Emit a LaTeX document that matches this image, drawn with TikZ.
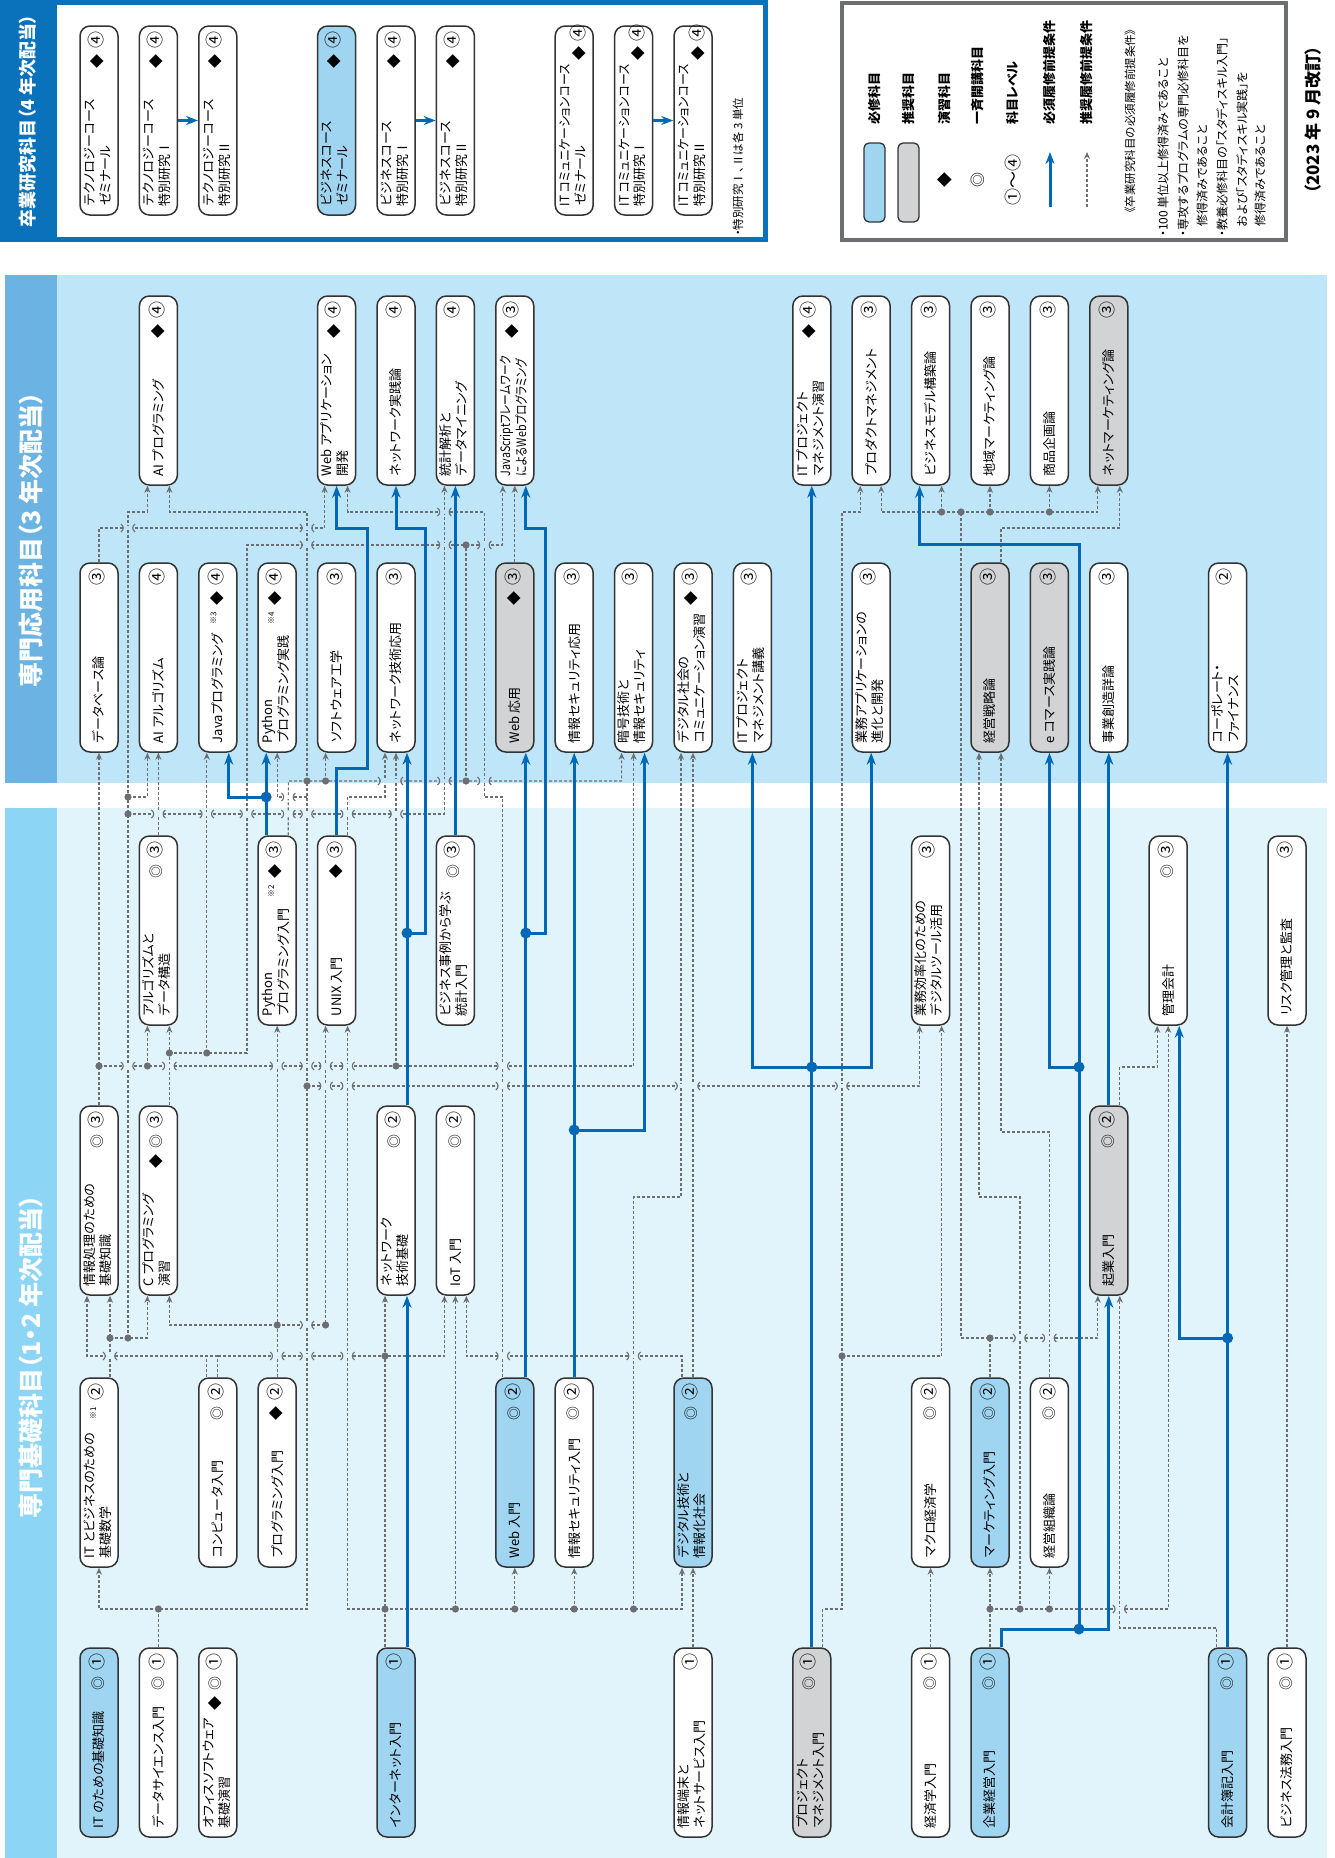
\documentclass[tikz,border=0pt]{standalone}
\usepackage{fontspec}
\setmainfont{Noto Sans CJK JP}[RawFeature={+palt}]
\usepackage{graphicx}
\usetikzlibrary{arrows.meta}
\definecolor{reqblue}{HTML}{0068B7}
\definecolor{recgray}{HTML}{6D6E71}
\definecolor{boxline}{HTML}{333333}
\definecolor{reqfill}{HTML}{A0D5F2}
\definecolor{recfill}{HTML}{D1D3D4}
\definecolor{bgapp}{HTML}{BEE5F8}
\definecolor{barapp}{HTML}{6BB3E3}
\definecolor{bgbase}{HTML}{E1F3FB}
\definecolor{barbase}{HTML}{8DD5F5}
\definecolor{gradblue}{HTML}{0A72BA}
\definecolor{legline}{HTML}{6D6E71}
\newcommand{\mk}[1]{\makebox[20pt]{\fontsize{14}{14}\selectfont#1}}
\newcommand{\cbox}[3]{\makebox[189pt][l]{\hspace{9pt}\begin{tabular}{@{}l@{}}#1\end{tabular}\hfill#2\makebox[22pt]{\fontsize{17}{17}\selectfont#3}\hspace{3pt}}}

\begin{document}
\begin{tikzpicture}[x=1pt, y=-1pt,
    course/.style={rotate=90, draw=boxline, line width=1.5pt, rounded corners=10pt, fill=white, minimum width=189pt, minimum height=38pt, inner sep=0pt, font=\fontsize{13}{16}\selectfont},
    reqcourse/.style={course, fill=reqfill},
    reccourse/.style={course, fill=recfill},
    rec/.style={draw=recgray, line width=1.2pt, dash pattern=on 3pt off 2pt},
    recarr/.style={rec, -{Stealth[length=7pt, width=6pt]}},
    req/.style={draw=reqblue, line width=3pt},
    reqarr/.style={req, -{Stealth[length=12pt, width=9pt]}},
    title/.style={rotate=90, text=white, font=\bfseries\fontsize{25}{25}\selectfont},
    legtext/.style={rotate=90, anchor=west, inner sep=0pt, font=\bfseries\fontsize{13}{13}\selectfont},
    notetext/.style={rotate=90, anchor=west, inner sep=0pt, font=\fontsize{12}{12}\selectfont},
    pics/hop/.style={code={
      \fill[#1] (-4.5,-1.6) rectangle (4.5,1.6);
      \draw[recgray, line width=1.1pt] (-7,-4) .. controls (-4,-2) and (-4,2) .. (-7,4);
      \draw[recgray, line width=1.1pt] (7,-4) .. controls (4,-2) and (4,2) .. (7,4);
    }},
    pics/widehop/.style={code={
      \fill[#1] (-10,-1.6) rectangle (10,1.6);
      \draw[recgray, line width=1.1pt] (-12.5,-4) .. controls (-9.5,-2) and (-9.5,2) .. (-12.5,4);
      \draw[recgray, line width=1.1pt] (12.5,-4) .. controls (9.5,-2) and (9.5,2) .. (12.5,4);
    }}
  ]
  \useasboundingbox (0,0) rectangle (1334,1858);

  % panels
  \fill[bgapp] (5,275) rectangle (1327,783);
  \fill[barapp] (5,275) rectangle (57,783);
  \fill[bgbase] (5,808) rectangle (1327,1858);
  \fill[barbase] (5,808) rectangle (57,1858);
  \draw[gradblue, line width=5pt, fill=white] (2.5,2.5) rectangle (765.5,239.5);
  \fill[gradblue] (0,0) rectangle (57,242);
  \draw[legline, line width=4pt] (842,3) rectangle (1286,240);

  \node[title, font=\bfseries\fontsize{18}{18}\selectfont] (gradtitle) at (28,121) {卒業研究科目（4 年次配当）};
  \node[title] (apptitle) at (31,540) {専門応用科目（3 年次配当）};
  \node[title] (basetitle) at (31,1357) {専門基礎科目（1・2 年次配当）};

  % graduation research
  \node[course] (tzemi) at (99,120.5) {\cbox{テクノロジーコース\\ゼミナール}{\mk{◆}}{④}};
  \node[course] (tsp1) at (158.4,120.5) {\cbox{テクノロジーコース\\特別研究Ⅰ}{\mk{◆}}{④}};
  \node[course] (tsp2) at (217.8,120.5) {\cbox{テクノロジーコース\\特別研究Ⅱ}{\mk{◆}}{④}};
  \node[reqcourse] (bzemi) at (336.6,120.5) {\cbox{ビジネスコース\\ゼミナール}{\mk{◆}}{④}};
  \node[course] (bsp1) at (396,120.5) {\cbox{ビジネスコース\\特別研究Ⅰ}{\mk{◆}}{④}};
  \node[course] (bsp2) at (455.4,120.5) {\cbox{ビジネスコース\\特別研究Ⅱ}{\mk{◆}}{④}};
  \node[course] (czemi) at (574.2,120.5) {\cbox{\scalebox{0.92}[1]{IT コミュニケーションコース}\\ゼミナール}{\mk{\raisebox{-7pt}{◆}}}{\raisebox{-7pt}{④}}};
  \node[course] (csp1) at (633.6,120.5) {\cbox{\scalebox{0.92}[1]{IT コミュニケーションコース}\\特別研究Ⅰ}{\mk{\raisebox{-7pt}{◆}}}{\raisebox{-7pt}{④}}};
  \node[course] (csp2) at (693,120.5) {\cbox{\scalebox{0.92}[1]{IT コミュニケーションコース}\\特別研究Ⅱ}{\mk{\raisebox{-7pt}{◆}}}{\raisebox{-7pt}{④}}};
  \draw[reqarr] (tsp1.south) -- (tsp2.north);
  \draw[reqarr] (bsp1.south) -- (bsp2.north);
  \draw[reqarr] (csp1.south) -- (csp2.north);
  \node[notetext, font=\fontsize{11.5}{11.5}\selectfont] (gradnote) at (738,236) {・特別研究Ⅰ、Ⅱは各 3 単位};

  % legend
  \draw[fill=reqfill, draw=boxline, line width=1.3pt, rounded corners=5pt] (864,143) rectangle (885,222);
  \draw[fill=recfill, draw=boxline, line width=1.3pt, rounded corners=5pt] (898,143) rectangle (919,222);
  \node[rotate=90, font=\fontsize{15}{15}\selectfont] (legdia) at (945,180) {◆};
  \node[rotate=90, font=\fontsize{15}{15}\selectfont] (legdbl) at (978,180) {◎};
  \node[rotate=90, font=\fontsize{17}{17}\selectfont] (leglvl) at (1013,180) {①〜④};
  \draw[reqarr] (1050,207) -- (1050,152);
  \draw[recarr] (1087,207) -- (1087,152);
  \node[legtext] (legreq) at (875,125) {必修科目};
  \node[legtext] (legrec) at (909,125) {推奨科目};
  \node[legtext] (legex) at (945,125) {演習科目};
  \node[legtext] (legjoint) at (978,125) {一斉開講科目};
  \node[legtext] (leglevel) at (1013,125) {科目レベル};
  \node[legtext] (legreqpre) at (1050,125) {必須履修前提条件};
  \node[legtext] (legrecpre) at (1087,125) {推奨履修前提条件};
  \node[notetext, font=\fontsize{11.5}{11.5}\selectfont] (legcond) at (1130,213) {《卒業研究科目の必須履修前提条件》};
  \node[notetext] (cond1) at (1163,237) {・100 単位以上修得済みであること};
  \node[notetext] (cond2) at (1183,237) {・専攻するプログラムの専門必修科目を};
  \node[notetext] (cond2b) at (1202,227) {修得済みであること};
  \node[notetext] (cond3) at (1222,237) {・教養必修科目の「スタディスキル入門」};
  \node[notetext] (cond3b) at (1242,227) {および「スタディスキル実践」を};
  \node[notetext] (cond3c) at (1260,227) {修得済みであること};
  \node[rotate=90, font=\bfseries\fontsize{17}{17}\selectfont] (revised) at (1313,120) {（2023 年 9 月改訂）};

  % level 3, upper row
  \node[course] (aiprog) at (158.4,390.5) {\cbox{AI プログラミング}{\mk{◆}}{④}};
  \node[course] (webapp) at (336.6,390.5) {\cbox{Web アプリケーション\\開発}{\mk{◆}}{④}};
  \node[course] (netprac) at (396,390.5) {\cbox{ネットワーク実践論}{}{④}};
  \node[course] (stat) at (455.4,390.5) {\cbox{統計解析と\\データマイニング}{}{④}};
  \node[course] (jsweb) at (514.8,390.5) {\cbox{\scalebox{0.82}[1]{JavaScriptフレームワーク}\\\scalebox{0.82}[1]{によるWebプログラミング}}{\mk{◆}}{③}};
  \node[course] (itpmex) at (811.8,390.5) {\cbox{IT プロジェクト\\マネジメント演習}{\mk{◆}}{④}};
  \node[course] (prodmgmt) at (871.2,390.5) {\cbox{プロダクトマネジメント}{}{③}};
  \node[course] (bizmodel) at (930.6,390.5) {\cbox{ビジネスモデル構築論}{}{③}};
  \node[course] (regmkt) at (990,390.5) {\cbox{地域マーケティング論}{}{③}};
  \node[course] (prodplan) at (1049.4,390.5) {\cbox{商品企画論}{}{③}};
  \node[reccourse] (netmkt) at (1108.8,390.5) {\cbox{ネットマーケティング論}{}{③}};

  % level 3, lower row
  \node[course] (dbase) at (99,657.5) {\cbox{データベース論}{}{③}};
  \node[course] (aialgo) at (158.4,657.5) {\cbox{AI アルゴリズム}{}{④}};
  \node[course] (java) at (217.8,657.5) {\cbox{Javaプログラミング}{\mk{\raisebox{6pt}{\fontsize{8}{8}\selectfont ※3}}\mk{◆}}{④}};
  \node[course] (pyprac) at (277.2,657.5) {\cbox{Python\\プログラミング実践}{\mk{\raisebox{6pt}{\fontsize{8}{8}\selectfont ※4}}\mk{◆}}{④}};
  \node[course] (softeng) at (336.6,657.5) {\cbox{ソフトウェア工学}{}{③}};
  \node[course] (netapp) at (396,657.5) {\cbox{ネットワーク技術応用}{}{③}};
  \node[reccourse] (webadv) at (514.8,657.5) {\cbox{Web 応用}{\mk{◆}}{③}};
  \node[course] (secadv) at (574.2,657.5) {\cbox{情報セキュリティ応用}{}{③}};
  \node[course] (crypto) at (633.6,657.5) {\cbox{暗号技術と\\情報セキュリティ}{}{③}};
  \node[course] (digcomm) at (693,657.5) {\cbox{デジタル社会の\\コミュニケーション演習}{\mk{◆}}{③}};
  \node[course] (itpmlec) at (752.4,657.5) {\cbox{IT プロジェクト\\マネジメント講義}{}{③}};
  \node[course] (bizapp) at (871.2,657.5) {\cbox{業務アプリケーションの\\進化と開発}{}{③}};
  \node[reccourse] (strategy) at (990,657.5) {\cbox{経営戦略論}{}{③}};
  \node[reccourse] (ecom) at (1049.4,657.5) {\cbox{e コマース実践論}{}{③}};
  \node[course] (venture) at (1108.8,657.5) {\cbox{事業創造詳論}{}{③}};
  \node[course] (corpfin) at (1227.6,657.5) {\cbox{コーポレート・\\ファイナンス}{}{②}};

  % level 2, upper row
  \node[course] (algds) at (158.4,930.5) {\cbox{アルゴリズムと\\データ構造}{\mk{◎}}{③}};
  \node[course] (pyintro) at (277.2,930.5) {\cbox{Python\\プログラミング入門}{\mk{\raisebox{6pt}{\fontsize{8}{8}\selectfont ※2}}\mk{◆}}{③}};
  \node[course] (unix) at (336.6,930.5) {\cbox{UNIX 入門}{\mk{◆}}{③}};
  \node[course] (bizstat) at (455.4,930.5) {\cbox{ビジネス事例から学ぶ\\統計入門}{\mk{◎}}{③}};
  \node[course] (digtool) at (930.6,930.5) {\cbox{業務効率化のための\\デジタルツール活用}{}{③}};
  \node[course] (mgmtacc) at (1168.2,930.5) {\cbox{管理会計}{\mk{◎}}{③}};
  \node[course] (risk) at (1287,930.5) {\cbox{リスク管理と監査}{}{③}};

  % level 2, lower row
  \node[course] (infobasic) at (99,1200.5) {\cbox{情報処理のための\\基礎知識}{\mk{◎}}{③}};
  \node[course] (cprog) at (158.4,1200.5) {\cbox{C プログラミング\\演習}{\mk{◆}\mk{◎}}{③}};
  \node[course] (netbasic) at (396,1200.5) {\cbox{ネットワーク\\技術基礎}{\mk{◎}}{②}};
  \node[course] (iot) at (455.4,1200.5) {\cbox{IoT 入門}{\mk{◎}}{②}};
  \node[reccourse] (startup) at (1108.8,1200.5) {\cbox{起業入門}{\mk{◎}}{②}};

  % level 1, upper row
  \node[course] (itmath) at (99,1472.5) {\cbox{IT とビジネスのための\\基礎数学}{\mk{\raisebox{6pt}{\fontsize{8}{8}\selectfont ※1}}}{②}};
  \node[course] (compintro) at (217.8,1472.5) {\cbox{コンピュータ入門}{\mk{◎}}{②}};
  \node[course] (progintro) at (277.2,1472.5) {\cbox{プログラミング入門}{\mk{◆}}{②}};
  \node[reqcourse] (webintro) at (514.8,1472.5) {\cbox{Web 入門}{\mk{◎}}{②}};
  \node[course] (secintro) at (574.2,1472.5) {\cbox{情報セキュリティ入門}{\mk{◎}}{②}};
  \node[reqcourse] (digsoc) at (693,1472.5) {\cbox{デジタル技術と\\情報化社会}{\mk{◎}}{②}};
  \node[course] (macro) at (930.6,1472.5) {\cbox{マクロ経済学}{\mk{◎}}{②}};
  \node[reqcourse] (mktintro) at (990,1472.5) {\cbox{マーケティング入門}{\mk{◎}}{②}};
  \node[course] (org) at (1049.4,1472.5) {\cbox{経営組織論}{\mk{◎}}{②}};

  % level 1, lower row
  \node[reqcourse] (itbasic) at (99,1742.5) {\cbox{IT のための基礎知識}{\mk{◎}}{①}};
  \node[course] (dsintro) at (158.4,1742.5) {\cbox{データサイエンス入門}{\mk{◎}}{①}};
  \node[course] (office) at (217.8,1742.5) {\cbox{オフィスソフトウェア\\基礎演習}{\mk{◆}\mk{◎}}{①}};
  \node[reqcourse] (internet) at (396,1742.5) {\cbox{インターネット入門}{}{①}};
  \node[course] (device) at (693,1742.5) {\cbox{情報端末と\\ネットサービス入門}{}{①}};
  \node[reccourse] (pmintro) at (811.8,1742.5) {\cbox{プロジェクト\\マネジメント入門}{\mk{◎}}{①}};
  \node[course] (econ) at (930.6,1742.5) {\cbox{経済学入門}{\mk{◎}}{①}};
  \node[reqcourse] (bizintro) at (990,1742.5) {\cbox{企業経営入門}{\mk{◎}}{①}};
  \node[reqcourse] (bookkeep) at (1227.6,1742.5) {\cbox{会計簿記入門}{\mk{◎}}{①}};
  \node[course] (law) at (1287,1742.5) {\cbox{ビジネス法務入門}{\mk{◎}}{①}};

  % recommended prerequisites
  \draw[recarr] (dsintro.east) -- (158.4,1609) -- (307,1609) -- (307,512) -| ([xshift=11pt]aiprog.west);
  \draw[recarr] (158.4,1609) -| (itmath.west);
  \draw[recarr] (307,1086) -| ([xshift=-11pt]digtool.west);
  \draw[recarr] ([xshift=11pt]pyintro.east) -- (288.4,781) -| ([xshift=-12pt]crypto.west);
  \draw[recarr] (325.6,781) -- ([xshift=-11pt]softeng.west);
  \draw[rec] (466,781) -- (466,545);
  \draw[recarr] ([xshift=11pt]cprog.east) -- ([xshift=11pt]algds.west);
  \draw[recarr] (169.4,1053) -- (247,1053) -- (247,545) -| ([xshift=-12pt]jsweb.west);
  \draw[recarr] (206.8,1053) -- ([xshift=-11pt]java.west);
  \draw[recarr] ([xshift=-12pt]webintro.east) -- (502.8,797) -- (484.4,797) -- (484.4,512) -| ([xshift=11pt]webapp.west);
  \draw[recarr] (307,797) -| (pyprac.west);
  \draw[recarr] ([xshift=11pt]itmath.east) -- ([xshift=11pt]infobasic.west);
  \draw[recarr] (110,1338) -| ([xshift=-11pt]cprog.west);
  \draw[recarr] (128,1338) -- (128,512) -| ([xshift=-11pt]aiprog.west);
  \draw[recarr] (128,797) -| ([xshift=-11pt]aialgo.west);
  \draw[recarr] (128,814) -| ([xshift=-11pt]stat.west);
  \draw[recarr] (infobasic.east) -- (dbase.west);
  \draw[recarr] (99,1066) -| (crypto.west);
  \draw[recarr] (147.4,1066) -- ([xshift=-11pt]algds.west);
  \draw[recarr] (396,1066) -- (netapp.west);
  \draw[recarr] (dbase.east) -- (99,528) -| ([xshift=-12pt]webapp.west);
  \draw[recarr] (algds.east) -- (aialgo.west);
  \draw[recarr] (progintro.east) -- (pyintro.west);
  \draw[recarr] (277.2,1325) -| ([xshift=11pt]cprog.west);
  \draw[recarr] (277.2,1325) -| ([xshift=-11pt]unix.west);
  \draw[rec] ([xshift=-11pt]compintro.east) -- (206.8,1356);
  \draw[rec] (compintro.east) -- (217.8,1356);
  \draw[recarr] (217.8,1356) -| ([xshift=-12pt]infobasic.west);
  \draw[recarr] (217.8,1356) -| ([xshift=-11pt]iot.west);
  \draw[recarr] ([xshift=-11pt]internet.east) -- ([xshift=-11pt]netbasic.west);
  \draw[recarr] (385,1609) -| ([xshift=11pt]unix.west);
  \draw[recarr] (385,1609) -| ([xshift=-11pt]digsoc.west);
  \draw[recarr] (455.4,1609) -- (iot.west);
  \draw[recarr] (514.8,1609) -- (webintro.west);
  \draw[recarr] (574.2,1609) -- (secintro.west);
  \draw[recarr] (633.6,1609) -- (633.6,1197) -| ([xshift=-12pt]digcomm.west);
  \draw[recarr] ([xshift=11pt]unix.east) -- (347.6,797) -| ([xshift=-11pt]netapp.west);
  \draw[recarr] ([xshift=-11pt]digsoc.east) -- (682,1356) -| ([xshift=11pt]iot.west);
  \draw[recarr] (digsoc.east) -- (digcomm.west);
  \draw[recarr] (device.east) -- (digsoc.west);
  \draw[recarr] (webadv.east) -- (jsweb.west);
  \draw[recarr] ([xshift=11pt]pmintro.east) -- (822.8,1609) -- (842,1609) -- (842,512) -| ([xshift=-11pt]prodmgmt.west);
  \draw[recarr] (842,1356) -| ([xshift=11pt]digtool.west);
  \draw[recarr] (mktintro.east) -- (990,1338) -- (961,1338) -- (961,512) -| ([xshift=10pt]prodmgmt.west);
  \draw[recarr] (961,512) -| ([xshift=-11pt]netmkt.west);
  \draw[recarr] (941.6,512) -- ([xshift=11pt]bizmodel.west);
  \draw[recarr] (990,512) -- (regmkt.west);
  \draw[recarr] (1049.4,512) -- (prodplan.west);
  \draw[recarr] (990,1338) -| ([xshift=-11pt]startup.west);
  \draw[recarr] ([xshift=11pt]strategy.east) -- (1001,528) -| ([xshift=11pt]netmkt.west);
  \draw[recarr] (bizintro.east) -- (mktintro.west);
  \draw[recarr] (990,1609) -| (mgmtacc.west);
  \draw[recarr] (1020,1609) -- (1020,1197) -| ([xshift=-11pt]strategy.west);
  \draw[recarr] (1049.4,1609) -- (org.west);
  \draw[recarr] (org.east) -- (1049.4,1132) -| ([xshift=11pt]strategy.west);
  \draw[recarr] ([xshift=-11pt]bookkeep.east) -- (1216.6,1628) -| ([xshift=11pt]startup.west);
  \draw[recarr] ([xshift=11pt]startup.east) -- (1119.8,1067) -| ([xshift=-11pt]mgmtacc.west);
  \draw[recarr] (econ.east) -- (macro.west);
  \draw[recarr] (law.east) -- (risk.west);

  % line hops
  \pic at (128,528) {hop=bgapp};
  \pic at (307,528) {hop=bgapp};
  \pic at (307,545) {hop=bgapp};
  \pic at (444.4,545) {hop=bgapp};
  \pic at (484.4,545) {hop=bgapp};
  \pic at (444.4,512) {hop=bgapp};
  \pic at (390.5,781) {widehop=bgapp};
  \pic at (444.4,781) {hop=bgapp};
  \pic at (484.4,781) {hop=bgapp};
  \pic at (288.4,797) {hop=white};
  \pic at (158.4,814) {hop=bgbase};
  \pic at (206.8,814) {hop=bgbase};
  \pic at (247,814) {hop=bgbase};
  \pic at (288.4,814) {hop=bgbase};
  \pic at (307,814) {hop=bgbase};
  \pic at (347.6,814) {hop=bgbase};
  \pic at (396,814) {hop=bgbase};
  \pic at (128,1066) {hop=bgbase};
  \pic at (169.4,1066) {hop=bgbase};
  \pic at (277.2,1066) {hop=bgbase};
  \pic at (307,1066) {hop=bgbase};
  \pic at (325.6,1066) {hop=bgbase};
  \pic at (347.6,1066) {hop=bgbase};
  \pic at (502.8,1066) {hop=bgbase};
  \pic at (325.6,1086) {hop=bgbase};
  \pic at (347.6,1086) {hop=bgbase};
  \pic at (502.8,1086) {hop=bgbase};
  \pic at (687.5,1086) {widehop=bgbase};
  \pic at (842,1086) {hop=bgbase};
  \pic at (307,1325) {hop=bgbase};
  \pic at (110,1356) {hop=bgbase};
  \pic at (277.2,1356) {hop=bgbase};
  \pic at (307,1356) {hop=bgbase};
  \pic at (347.6,1356) {hop=bgbase};
  \pic at (502.8,1356) {hop=bgbase};
  \pic at (633.6,1356) {hop=bgbase};
  \pic at (1020,1338) {hop=bgbase};
  \pic at (1049.4,1338) {hop=bgbase};
  \pic at (1119.8,1609) {hop=bgbase};

  % required prerequisites
  \draw[reqarr] ([xshift=11pt]internet.east) -- ([xshift=11pt]netbasic.west);
  \draw[reqarr] ([xshift=11pt]netbasic.east) -- ([xshift=11pt]netapp.west);
  \draw[reqarr] (407,933) -- (425,933) -- (425,528) -| (netprac.west);
  \draw[reqarr] (bizstat.east) -- (stat.west);
  \draw[reqarr] ([xshift=-11pt]pyintro.east) -- ([xshift=-11pt]pyprac.west);
  \draw[reqarr] (266.2,797) -| ([xshift=11pt]java.west);
  \draw[reqarr] (unix.east) -- (336.6,768) -- (367,768) -- (367,528) -| (webapp.west);
  \draw[reqarr] ([xshift=11pt]webintro.east) -- ([xshift=11pt]webadv.west);
  \draw[reqarr] (525.8,933) -- (545,933) -- (545,528) -| ([xshift=11pt]jsweb.west);
  \draw[reqarr] (secintro.east) -- (secadv.west);
  \draw[reqarr] (574.2,1130) -| ([xshift=11pt]crypto.west);
  \draw[reqarr] (pmintro.east) -- (itpmex.west);
  \draw[reqarr] (811.8,1067) -| (itpmlec.west);
  \draw[reqarr] (811.8,1067) -| (bizapp.west);
  \draw[reqarr] ([xshift=11pt]bizintro.east) -- (1001,1629) -| (startup.west);
  \draw[reqarr] (1079,1629) -- (1079,544) -| ([xshift=-11pt]bizmodel.west);
  \draw[reqarr] (1079,1067) -| (ecom.west);
  \draw[reqarr] (startup.east) -- (venture.west);
  \draw[reqarr] (bookkeep.east) -- (corpfin.west);
  \draw[reqarr] (1227.6,1338) -| ([xshift=11pt]mgmtacc.west);

  % junction dots
  \foreach \px/\py in {158.4/1609, 307/1086, 307/781, 325.6/781, 466/781, 466/545, 169.4/1053, 206.8/1053,
      110/1338, 128/1338, 128/797, 128/814, 99/1066, 147.4/1066, 396/1066, 277.2/1325, 325.6/1325,
      385/1356, 385/1609, 455.4/1609, 514.8/1609, 574.2/1609, 633.6/1609, 842/1356,
      941.6/512, 961/512, 990/512, 1049.4/512, 990/1338, 990/1609, 1020/1609, 1049.4/1609}
    \fill[recgray] (\px,\py) circle[radius=3.6pt];
  \foreach \px/\py in {407/933, 266.2/797, 525.8/933, 574.2/1130, 811.8/1067, 1079/1629, 1079/1067, 1227.6/1338}
    \fill[reqblue] (\px,\py) circle[radius=5.5pt];
\end{tikzpicture}
\end{document}
